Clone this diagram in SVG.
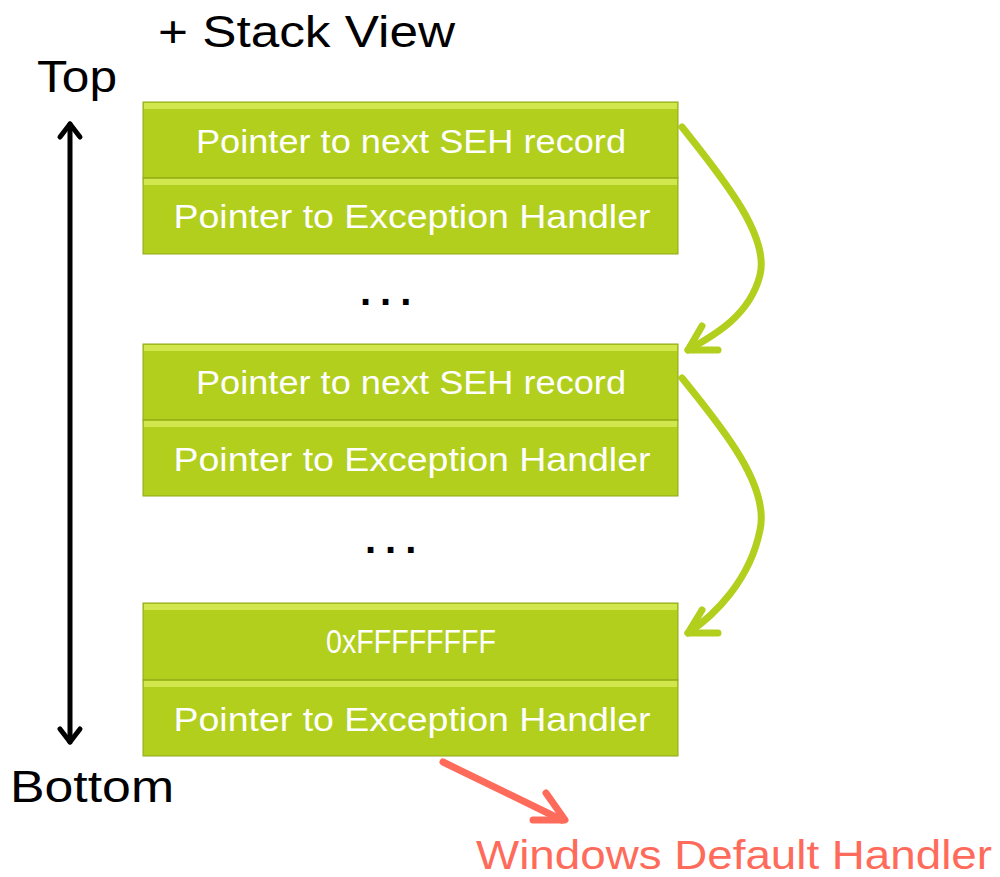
<svg xmlns="http://www.w3.org/2000/svg" width="1000" height="877" viewBox="0 0 1000 877">
<defs>
<style>
.box{fill:#b1cf1c;stroke:#8fa818;stroke-width:1}
.bev-t{fill:#d9ec5a}
.lbl{font-family:"Liberation Sans",Arial,sans-serif;font-size:33px;fill:#ffffff;text-anchor:middle}
.big{font-family:"Liberation Sans",Arial,sans-serif;font-size:44px;fill:#000}
.dots{font-family:"Liberation Sans",Arial,sans-serif;font-size:40px;font-weight:bold;fill:#000;letter-spacing:9px}
.green{fill:none;stroke:#b1cf1c;stroke-width:7;stroke-linecap:round;stroke-linejoin:round}
</style>
</defs>
<text class="big" x="158" y="47" textLength="297" lengthAdjust="spacingAndGlyphs">+ Stack View</text>
<text class="big" x="37" y="92" textLength="80" lengthAdjust="spacingAndGlyphs">Top</text>
<text class="big" x="10" y="802" textLength="164" lengthAdjust="spacingAndGlyphs">Bottom</text>
<text x="476" y="869" style="font-family:'Liberation Sans',Arial,sans-serif;font-size:40px;fill:#ff6b5b" textLength="516" lengthAdjust="spacingAndGlyphs">Windows Default Handler</text>

<g id="connectors">
<g stroke="#000" stroke-width="5" fill="none" stroke-linecap="round" stroke-linejoin="round">
<line x1="70" y1="124" x2="70" y2="742"/>
<path d="M60,137 L70,124 L80,137"/>
<path d="M60,729 L70,742 L80,729"/>
</g>
<path class="green" d="M682,127 C720,175 770,235 760,275 C750,315 715,335 688,350"/>
<path class="green" d="M702,326 L688,350 L718,350"/>
<path class="green" d="M682,378 C720,425 770,485 760,530 C750,580 715,615 688,633"/>
<path class="green" d="M702,610 L688,633 L718,633"/>
<g stroke="#ff6b5b" stroke-width="7" fill="none" stroke-linecap="round" stroke-linejoin="round">
<line x1="443" y1="762" x2="562" y2="820"/>
<path d="M546,793 L565,820 L533,820"/>
</g>
</g>

<g id="n1a">
<rect class="box" x="143" y="102" width="535" height="76"/>
<rect class="bev-t" x="144" y="103" width="533" height="6" opacity="0.8"/>
<text class="lbl" x="411" y="153" textLength="430" lengthAdjust="spacingAndGlyphs">Pointer to next SEH record</text>
</g>
<g id="n1b">
<rect class="box" x="143" y="178" width="535" height="76"/>
<rect class="bev-t" x="144" y="179" width="533" height="6" opacity="0.8"/>
<text class="lbl" x="412" y="228" textLength="477" lengthAdjust="spacingAndGlyphs">Pointer to Exception Handler</text>
</g>
<text class="dots" x="360" y="305">...</text>
<g id="n2a">
<rect class="box" x="143" y="344" width="535" height="76"/>
<rect class="bev-t" x="144" y="345" width="533" height="6" opacity="0.8"/>
<text class="lbl" x="411" y="394" textLength="430" lengthAdjust="spacingAndGlyphs">Pointer to next SEH record</text>
</g>
<g id="n2b">
<rect class="box" x="143" y="420" width="535" height="76"/>
<rect class="bev-t" x="144" y="421" width="533" height="6" opacity="0.8"/>
<text class="lbl" x="412" y="471" textLength="477" lengthAdjust="spacingAndGlyphs">Pointer to Exception Handler</text>
</g>
<text class="dots" x="365" y="553">...</text>
<g id="n3a">
<rect class="box" x="143" y="603" width="535" height="77"/>
<rect class="bev-t" x="144" y="604" width="533" height="6" opacity="0.8"/>
<text class="lbl" x="411" y="653" textLength="170" lengthAdjust="spacingAndGlyphs">0xFFFFFFFF</text>
</g>
<g id="n3b">
<rect class="box" x="143" y="680" width="535" height="76"/>
<rect class="bev-t" x="144" y="681" width="533" height="6" opacity="0.8"/>
<text class="lbl" x="412" y="731" textLength="477" lengthAdjust="spacingAndGlyphs">Pointer to Exception Handler</text>
</g>
</svg>
